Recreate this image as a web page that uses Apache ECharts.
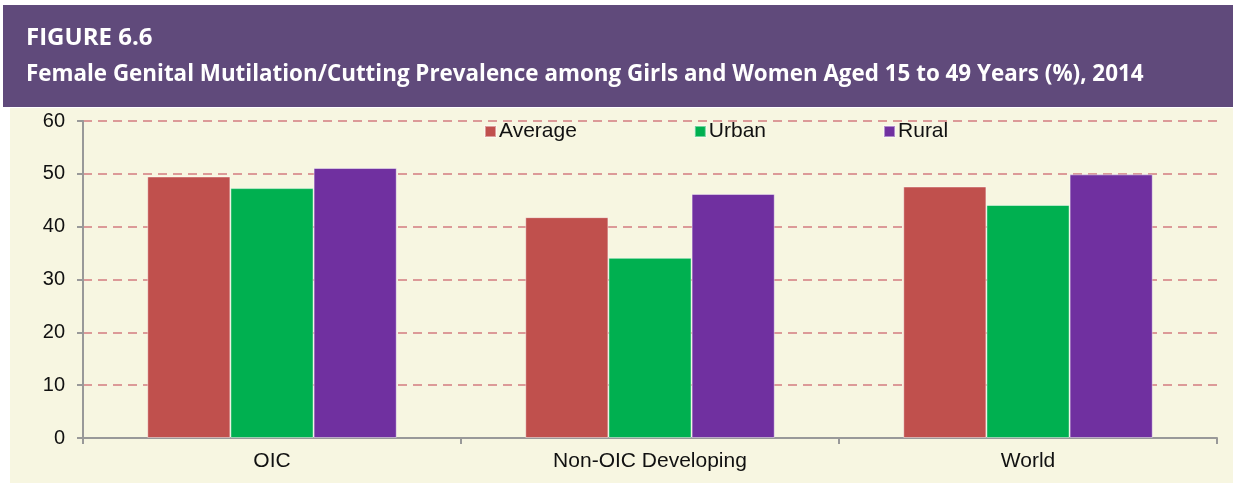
<!DOCTYPE html>
<html>
<head>
<meta charset="utf-8">
<script src="https://cdn.jsdelivr.net/npm/echarts@6/dist/echarts.min.js"></script>
<style>
    html, body { margin: 0; padding: 0; background: #ffffff; }
    #chart { width: 1233px; height: 483px; }
</style>
</head>
<body>
<div id="chart"></div>
<script>
    // data
    var categories = ['OIC', 'Non-OIC Developing', 'World'];
    var averageValues = [49.5, 41.8, 47.6];
    var urbanValues = [47.3, 34.1, 44.1];
    var ruralValues = [51.1, 46.2, 49.9];
    var yTicks = { min: 0, max: 60, interval: 10 };

    var chart = echarts.init(document.getElementById('chart'));
    var option = {
        animation: false,
        color: ['#c0504d', '#00b050', '#7030a0'],
        graphic: [
            {
                type: 'rect',
                z: -10,
                shape: { x: 3, y: 5, width: 1230, height: 102 },
                style: { fill: '#604a7b' }
            },
            {
                type: 'rect',
                z: -10,
                shape: { x: 10, y: 108, width: 1223, height: 375 },
                style: { fill: '#f7f6e1' }
            }
        ],
        title: [
            {
                text: 'FIGURE 6.6',
                left: 21,
                top: 21,
                textStyle: { color: '#ffffff', fontFamily: 'Open Sans', fontWeight: 'bold', fontSize: 24 }
            },
            {
                text: 'Female Genital Mutilation/Cutting Prevalence among Girls and Women Aged 15 to 49 Years (%), 2014',
                left: 21,
                top: 59,
                textStyle: { color: '#ffffff', fontFamily: 'Open Sans', fontWeight: 'bold', fontSize: 22.4 }
            }
        ],
        legend: {
            data: ['Average', 'Urban', 'Rural'],
            left: 484,
            top: 121,
            padding: 0,
            itemWidth: 11,
            itemHeight: 11,
            itemGap: 117,
            icon: 'rect',
            textStyle: { fontFamily: 'Liberation Sans', fontSize: 21, color: '#111111', padding: [0, 0, 0, -2] }
        },
        grid: { left: 83, right: 16, top: 121, bottom: 45 },
        xAxis: {
            type: 'category',
            data: categories,
            axisLine: { lineStyle: { color: '#999999', width: 2 } },
            axisTick: { show: true, length: 6, lineStyle: { color: '#999999', width: 2 } },
            axisLabel: { fontFamily: 'Liberation Sans', fontSize: 21, color: '#111111', margin: 13 }
        },
        yAxis: {
            type: 'value',
            min: yTicks.min,
            max: yTicks.max,
            interval: yTicks.interval,
            axisLine: { show: true, lineStyle: { color: '#999999', width: 2 } },
            axisTick: { show: true, length: 6, lineStyle: { color: '#999999', width: 2 } },
            axisLabel: { fontFamily: 'Liberation Sans', fontSize: 20, color: '#111111', margin: 18 },
            splitLine: { lineStyle: { color: '#dc9a98', width: 2, type: [9, 6] } }
        },
        series: [
            {
                name: 'Average',
                type: 'bar',
                barGap: '0%',
                barCategoryGap: '34%',
                itemStyle: { borderColor: 'rgba(255,255,255,0.45)', borderWidth: 1 },
                data: averageValues
            },
            {
                name: 'Urban',
                type: 'bar',
                barGap: '0%',
                barCategoryGap: '34%',
                itemStyle: { borderColor: 'rgba(255,255,255,0.45)', borderWidth: 1 },
                data: urbanValues
            },
            {
                name: 'Rural',
                type: 'bar',
                barGap: '0%',
                barCategoryGap: '34%',
                itemStyle: { borderColor: 'rgba(255,255,255,0.45)', borderWidth: 1 },
                data: ruralValues
            }
        ]
    };
    chart.setOption(option);
    window.addEventListener('resize', function () {
        chart.resize();
    });
</script>
</body>
</html>
